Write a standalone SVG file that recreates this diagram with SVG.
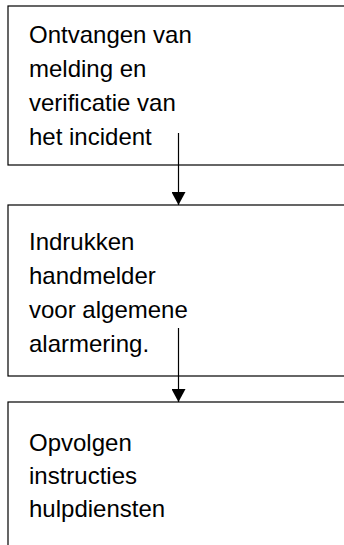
<svg xmlns="http://www.w3.org/2000/svg" width="344" height="545" viewBox="0 0 344 545">
<style>
.box{fill:#fff;stroke:#000;stroke-width:1.2}
.lbl{font-family:"Liberation Sans",Arial,sans-serif;font-size:24px;fill:#000}
.conn{stroke:#000;stroke-width:1.2;fill:none}
</style>
<defs>
<marker id="ah" markerWidth="13" markerHeight="14" refX="13" refY="7" orient="auto" markerUnits="userSpaceOnUse" viewBox="0 0 13 14">
<path d="M0,0 L13,7 L0,14 Z" fill="#000"/>
</marker>
</defs>
<g id="node1">
<rect class="box" x="8" y="6" width="350" height="159"/>
<text class="lbl" x="29" y="43">Ontvangen van</text>
<text class="lbl" x="29" y="77">melding en</text>
<text class="lbl" x="29" y="111">verificatie van</text>
<text class="lbl" x="29" y="145">het incident</text>
</g>
<g id="node2">
<rect class="box" x="8" y="205" width="350" height="171"/>
<text class="lbl" x="29" y="250">Indrukken</text>
<text class="lbl" x="29" y="284">handmelder</text>
<text class="lbl" x="29" y="318">voor algemene</text>
<text class="lbl" x="29" y="352">alarmering.</text>
</g>
<g id="node3">
<rect class="box" x="8" y="402" width="350" height="160"/>
<text class="lbl" x="29" y="451">Opvolgen</text>
<text class="lbl" x="29" y="484">instructies</text>
<text class="lbl" x="29" y="517">hulpdiensten</text>
</g>
<g id="connectors">
<path class="conn" d="M178.5,133 V205" marker-end="url(#ah)"/>
<path class="conn" d="M178.5,328 V402" marker-end="url(#ah)"/>
</g>
</svg>
